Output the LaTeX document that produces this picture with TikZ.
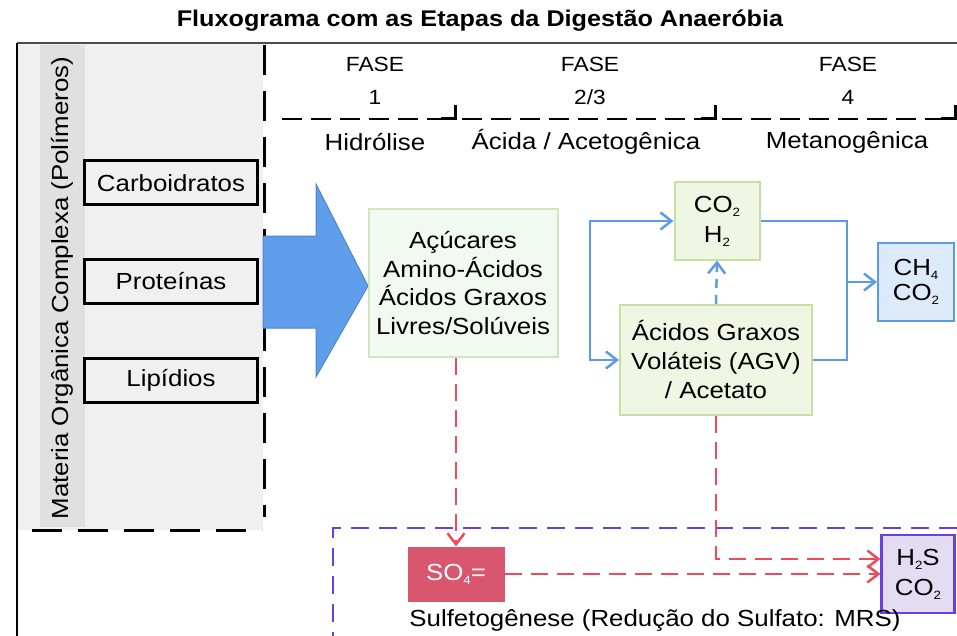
\documentclass[tikz,border=0pt]{standalone}
\usepackage{fontspec}
\setmainfont{Liberation Sans}[FakeStretch=1.11]
\usetikzlibrary{arrows.meta}
\definecolor{boxgray}{HTML}{EFF0EF}
\definecolor{stripgray}{HTML}{DFE0DF}
\definecolor{arrowblue}{HTML}{5E9EEB}
\definecolor{lineblue}{HTML}{5B9BE8}
\definecolor{leafgreen}{HTML}{EFF6E4}
\definecolor{leafedge}{HTML}{C6E0A4}
\definecolor{paleleaf}{HTML}{F2F9F1}
\definecolor{paleedge}{HTML}{CFE6BE}
\definecolor{skyfill}{HTML}{DCEAF9}
\definecolor{sulfred}{HTML}{D9566F}
\definecolor{dashred}{HTML}{EE4A5A}
\definecolor{mrsviolet}{HTML}{6B40E3}
\definecolor{lilac}{HTML}{E4DCF2}
\newcommand{\chemsub}[1]{\raisebox{-4pt}{\fontsize{12}{12}\selectfont#1}}

\begin{document}
\begin{tikzpicture}[x=1pt,y=-1pt,
  >={Straight Barb[length=11pt,width=17pt]},
  txt/.style={font=\fontsize{23.3}{28.5}\selectfont,align=center,inner sep=0pt},
  plainbox/.style={txt,draw=black,line width=3pt,minimum width=173pt,minimum height=44pt},
  leafbox/.style={txt,draw=leafedge,fill=leafgreen,line width=2pt},
  blackdash/.style={line width=3pt,dash pattern=on 30pt off 16pt},
  headdash/.style={line width=2.8pt,dash pattern=on 20pt off 9pt},
  blueline/.style={draw=lineblue,line width=2.5pt},
  reddash/.style={draw=dashred,line width=2.5pt,dash pattern=on 17pt off 9pt}]
\useasboundingbox (0,0) rectangle (957,636);

\fill[boxgray] (17,43) rectangle (263,530);
\fill[stripgray] (40,45) rectangle (85,527);
\draw[line width=1.5pt,black!70] (17,43) -- (957,43);
\draw[line width=2pt] (17,43) -- (17,636);
\draw[blackdash] (264,45) -- (264,517);
\draw[blackdash] (32,530) -- (262,530);

\node[font=\fontsize{22.7}{26}\selectfont\bfseries] (titulo) at (480,21) {Fluxograma com as Etapas da Digestão Anaeróbia};

\node[txt,font=\fontsize{20.5}{33}\selectfont] (faseA) at (375,81) {FASE\\1};
\node[txt,font=\fontsize{20.5}{33}\selectfont] (faseB) at (590,81) {FASE\\2/3};
\node[txt,font=\fontsize{20.5}{33}\selectfont] (faseC) at (848,81) {FASE\\4};
\node[txt] (hidro) at (375,142) {Hidrólise};
\node[txt] (acida) at (586,142) {Ácida / Acetogênica};
\node[txt] (metano) at (847,142) {Metanogênica};
\foreach \xa/\xb in {282/455,462/715,722/955}{
  \draw[headdash] (\xa,119) -- (\xb-14,119);
  \draw[line width=3pt] (\xb-14,119) -| (\xb,105);
}

\fill[arrowblue,draw=arrowblue!85!black,line width=1pt] (263,236) -- (316,236) -- (316,184) -- (368,286) -- (316,377) -- (316,328) -- (263,328) -- cycle;

\node[plainbox] (carbo) at (171,183) {Carboidratos};
\node[plainbox] (prote) at (171,281) {Proteínas};
\node[plainbox] (lipid) at (171,380) {Lipídios};
\node[txt,rotate=90] (materia) at (62,288) {Materia Orgânica Complexa (Polímeros)};

\node[leafbox,fill=paleleaf,draw=paleedge,minimum width=189pt,minimum height=147pt] (acucar) at (463,283) {Açúcares\\Amino-Ácidos\\Ácidos Graxos\\Livres/Solúveis};
\node[leafbox,minimum width=85pt,minimum height=77pt,font=\fontsize{23.3}{30}\selectfont] (gases) at (717,221) {CO\chemsub{2}\\H\chemsub{2}};
\node[leafbox,minimum width=192pt,minimum height=110pt,font=\fontsize{23.3}{29}\selectfont] (agv) at (716,360) {Ácidos Graxos\\Voláteis (AGV)\\/ Acetato};
\node[txt,draw=lineblue,fill=skyfill,line width=2pt,minimum width=76pt,minimum height=78pt,font=\fontsize{23.3}{25}\selectfont] (metanoB) at (916,282) {CH\chemsub{4}\\CO\chemsub{2}};
\node[txt,fill=sulfred,text=white,minimum width=97pt,minimum height=55pt] (sulfato) at (456,574) {SO\chemsub{4}=};
\node[txt,draw=mrsviolet,fill=lilac,line width=2.2pt,minimum width=73pt,minimum height=78pt,font=\fontsize{23.3}{30}\selectfont] (gasSulf) at (918,574) {H\chemsub{2}S\\CO\chemsub{2}};
\node[txt] (sulfeto) at (655,620) {Sulfetogênese (Redução do Sulfato: MRS)};

\coordinate (loopL) at (590,290);
\coordinate (loopR) at (847,282);
\draw[blueline,<->] (gases.west) -| (loopL) |- (agv.west);
\draw[blueline] (gases.east) -| (loopR) |- (agv.east);
\draw[blueline,->] (loopR) -- (metanoB.west);
\draw[blueline,dash pattern=on 9pt off 7pt,->] (agv.north) -- (gases.south);

\draw[mrsviolet,line width=2.5pt,dash pattern=on 18pt off 10pt] (957,528) -- (333,528) -- (333,636);
\draw[reddash,->] (sulfato.north |- acucar.south) -- (sulfato.north);
\draw[reddash,->] (sulfato.east) -- (gasSulf.west);
\draw[reddash,->] (agv.south) |- ([yshift=15pt]gasSulf.west);
\end{tikzpicture}
\end{document}
